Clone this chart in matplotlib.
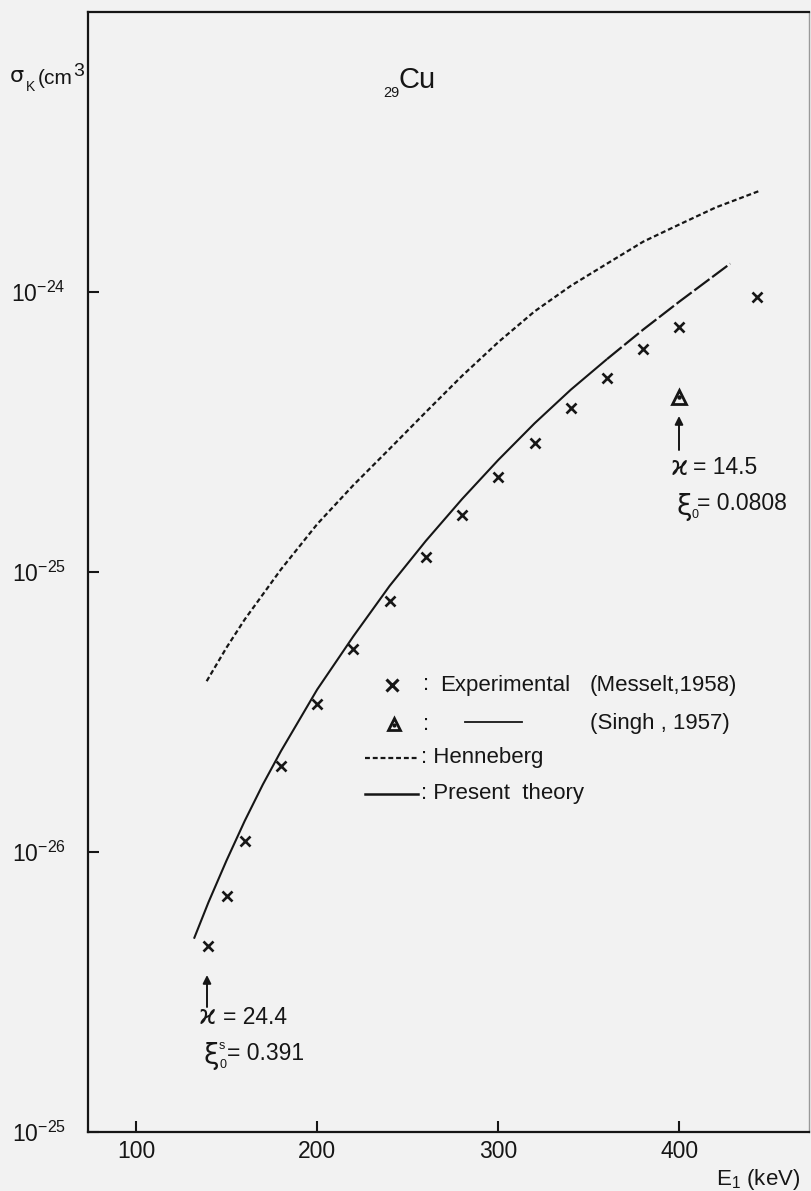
import matplotlib
matplotlib.use('Agg')
import matplotlib.pyplot as plt
from matplotlib.lines import Line2D

# ---------------- data ----------------
exp_energy = [140, 150, 160, 180, 200, 220, 240, 260, 280, 300, 320, 340, 360, 380, 400, 443]
exp_sigma = [4.60e-27, 6.95e-27, 1.09e-26, 2.02e-26, 3.38e-26, 5.30e-26, 7.90e-26, 1.13e-25,
             1.60e-25, 2.19e-25, 2.89e-25, 3.84e-25, 4.91e-25, 6.24e-25, 7.50e-25, 9.60e-25]
singh_energy = [400]
singh_sigma = [4.20e-25]
henn_energy = [139, 150, 160, 180, 200, 220, 240, 260, 280, 300, 320, 340, 360, 380, 400, 420, 444]
henn_sigma = [4.07e-26, 5.37e-26, 6.76e-26, 1.02e-25, 1.48e-25, 2.04e-25, 2.75e-25, 3.72e-25,
              5.01e-25, 6.61e-25, 8.51e-25, 1.05e-24, 1.26e-24, 1.51e-24, 1.74e-24, 2.00e-24, 2.29e-24]
theory_energy = [132, 140, 150, 160, 170, 180, 200, 220, 240, 260, 280, 300, 320, 340, 360, 380, 400, 428]
theory_sigma = [4.90e-27, 6.61e-27, 9.33e-27, 1.29e-26, 1.74e-26, 2.29e-26, 3.80e-26, 5.89e-26,
                8.91e-26, 1.29e-25, 1.82e-25, 2.51e-25, 3.39e-25, 4.47e-25, 5.75e-25, 7.33e-25,
                9.23e-25, 1.26e-24]
theory_dash_from = 360
xticks = [100, 200, 300, 400]
xtick_labels = ['100', '200', '300', '400']
yticks = [1e-27, 1e-26, 1e-25, 1e-24]
ytick_labels = [r'$10^{-25}$', r'$10^{-26}$', r'$10^{-25}$', r'$10^{-24}$']

# ---------------- style ----------------
INK = '#161616'
BG = '#f2f2f2'
plt.rcParams['font.family'] = ['Liberation Sans', 'DejaVu Sans']
plt.rcParams['mathtext.fontset'] = 'custom'
plt.rcParams['mathtext.rm'] = 'Liberation Sans'
plt.rcParams['mathtext.it'] = 'Liberation Sans'
plt.rcParams['mathtext.default'] = 'regular'

W, H = 811, 1191
fig = plt.figure(figsize=(W / 100, H / 100), dpi=100, facecolor=BG)
L, R, T, B = 88, 809, 11.7, 1132
ax = fig.add_axes([L / W, 1 - B / H, (R - L) / W, (B - T) / H], facecolor=BG)


def fx(px):
    return px / W


def fy(py):
    return 1 - py / H


def put(px, py, s, size, **kw):
    kw.setdefault('ha', 'left')
    kw.setdefault('va', 'center')
    return fig.text(fx(px), fy(py), s, fontsize=size, color=INK, **kw)


ax.set_yscale('log')
ax.set_xlim(73.5, 471.5)
ax.set_ylim(1e-27, 1e-23)

# curves
solid_e = [e for e in theory_energy if e <= theory_dash_from]
solid_s = [s for e, s in zip(theory_energy, theory_sigma) if e <= theory_dash_from]
dash_e = [e for e in theory_energy if e >= theory_dash_from]
dash_s = [s for e, s in zip(theory_energy, theory_sigma) if e >= theory_dash_from]
ax.plot(solid_e, solid_s, color=INK, lw=1.5, solid_capstyle='butt')
ax.plot(dash_e, dash_s, color=INK, lw=1.6, linestyle=(0, (8.5, 1.5)), dash_capstyle='butt')
ax.plot(henn_energy, henn_sigma, color=INK, lw=1.6, linestyle=(0, (2.2, 1.3)))

# points
ax.plot(exp_energy, exp_sigma, linestyle='none', marker='x', ms=7.5, mew=1.9, color=INK)
ax.plot(singh_energy, singh_sigma, linestyle='none', marker='^', ms=10, mew=2.0,
        mfc='none', mec=INK)
ax.plot(singh_energy, singh_sigma, linestyle='none', marker='o', ms=2.2, color=INK)

# axes styling
for side in ['left', 'bottom', 'top']:
    ax.spines[side].set_linewidth(1.6)
    ax.spines[side].set_color(INK)
ax.spines['right'].set_linewidth(1.0)
ax.spines['right'].set_color('#9a9a9a')
ax.minorticks_off()
ax.set_xticks(xticks)
ax.set_xticklabels(xtick_labels)
ax.set_yticks(yticks)
ax.set_yticklabels(ytick_labels)
ax.tick_params(axis='both', which='major', direction='in', length=8, width=1.5,
               color=INK, labelcolor=INK, labelsize=16.5)
ax.tick_params(axis='x', pad=6)
ax.tick_params(axis='y', pad=16)
ax.tick_params(axis='y', which='minor', left=False, right=False)

# axis titles
put(10, 76, 'σ', 16, family='DejaVu Sans')
put(26, 87, 'K', 10)
put(38, 78, '(cm', 15)
put(73, 72, '3', 14)
put(800, 1180, r'E$_1$ (keV)', 16, ha='right')
put(383, 93, '29', 10.5)
put(399, 80, 'Cu', 21)

# legend (manual)
fs = 16
ax.add_line(Line2D([fx(392)], [fy(685)], transform=fig.transFigure, marker='x', ms=8,
                   mew=2.2, color=INK, linestyle='none'))
put(423, 685, ':', fs)
put(440, 685, 'Experimental', fs)
put(590, 685, '(Messelt,1958)', fs)

ax.add_line(Line2D([fx(394)], [fy(724)], transform=fig.transFigure, marker='^', ms=9,
                   mew=2.0, mfc='none', mec=INK, linestyle='none'))
ax.add_line(Line2D([fx(394)], [fy(725)], transform=fig.transFigure, marker='o', ms=2,
                   color=INK, linestyle='none'))
put(423, 724, ':', fs)
ax.add_line(Line2D([fx(465), fx(522)], [fy(722), fy(722)], transform=fig.transFigure,
                   color=INK, lw=1.3))
put(590, 724, '(Singh , 1957)', fs)

ax.add_line(Line2D([fx(365), fx(418)], [fy(758), fy(758)], transform=fig.transFigure,
                   color=INK, lw=1.6, linestyle=(0, (2.2, 1.3))))
put(421, 758, ': Henneberg', fs)
ax.add_line(Line2D([fx(365), fx(418)], [fy(794), fy(794)], transform=fig.transFigure,
                   color=INK, lw=1.8))
put(421, 793, ': Present  theory', fs)

# annotations
arrow = dict(arrowstyle='-|>', lw=1.4, color=INK, mutation_scale=12, shrinkA=0, shrinkB=0)
ax.annotate('', xy=(fx(207), fy(975)), xytext=(fx(207), fy(1007)),
            xycoords='figure fraction', textcoords='figure fraction', arrowprops=arrow)
put(199, 1017, 'ϰ', 19, family='DejaVu Sans')
put(223, 1017, '= 24.4', 16.5)
put(204, 1056, 'ξ', 20, family='DejaVu Sans')
put(219, 1046, 's', 9)
put(219, 1065, '0', 9)
put(227, 1054, '= 0.391', 16.5)

ax.annotate('', xy=(fx(679), fy(416)), xytext=(fx(679), fy(450)),
            xycoords='figure fraction', textcoords='figure fraction', arrowprops=arrow)
put(671, 468, 'ϰ', 19, family='DejaVu Sans')
put(693, 468, '= 14.5', 16.5)
put(676, 507, 'ξ', 20, family='DejaVu Sans')
put(691, 515, '0', 9)
put(697, 504, '= 0.0808', 16.5)

fig.savefig('out.png', dpi=100, facecolor=BG)
